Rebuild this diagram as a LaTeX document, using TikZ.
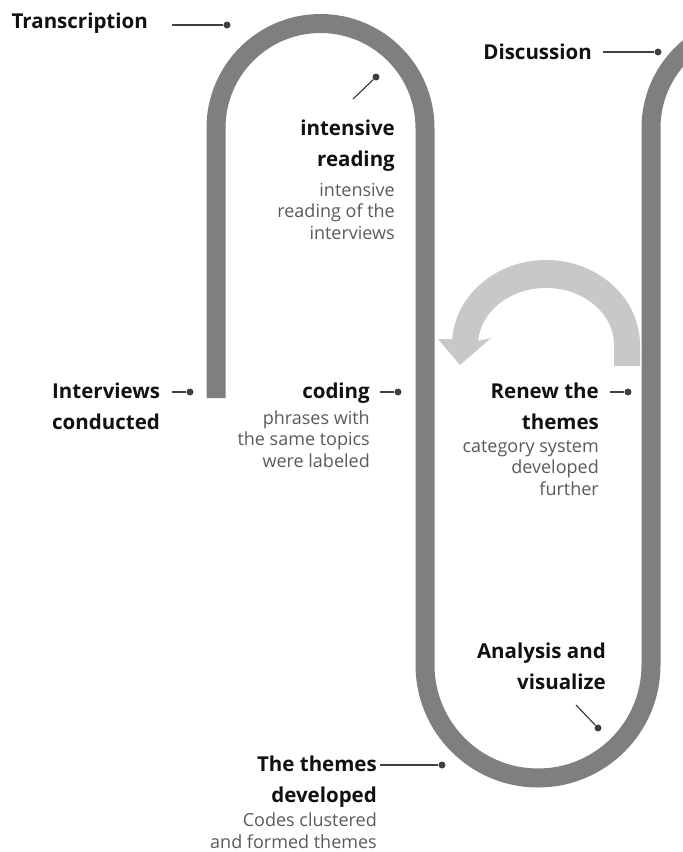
\documentclass[tikz,border=0pt]{standalone}
\usepackage{fontspec}
\setmainfont{Open Sans}
\definecolor{trackgray}{HTML}{7F7F7F}
\definecolor{arrowgray}{HTML}{C8C8C8}
\definecolor{leadergray}{HTML}{404040}
\definecolor{titleblack}{HTML}{111111}
\definecolor{descgray}{HTML}{5A5A5A}
\begin{document}
\begin{tikzpicture}[x=1pt,y=-1pt,
  track/.style={draw=trackgray, line width=19pt},
  title/.style={font=\bfseries\fontsize{20.5}{31}\selectfont, text=titleblack, align=right, inner sep=0pt},
  desc/.style={font=\fontsize{18}{21.5}\selectfont, text=descgray, align=right, inner sep=0pt},
  leader/.style={draw=leadergray, line width=1.2pt},
  dot/.style={circle, fill=leadergray, inner sep=0pt, minimum size=7pt}]
\useasboundingbox (0,0) rectangle (683,852);
\begin{scope}
\clip (0,0) rectangle (683,852);
% winding track
\draw[track] (216,398) -- (216,128) arc[start angle=180, end angle=360, radius=104.5]
  -- (425,665) arc[start angle=180, end angle=0, radius=113]
  -- (651,128) arc[start angle=180, end angle=270, radius=104];
\end{scope}
% curved return arrow
\fill[arrowgray] (640,366) -- (640,345) arc[start angle=0, end angle=-176, x radius=94, y radius=85]
  -- (438,339) -- (460,365) -- (491,338) -- (478.2,341)
  arc[start angle=-176, end angle=0, x radius=68, y radius=57] -- (614,366) -- cycle;

% labels (anchored at the baseline of their last line)
\node[title, anchor=base east] (transcription) at (148,28) {Transcription};
\node[title, anchor=base east] (discussion) at (592,59) {Discussion};
\node[title, anchor=base east] (intensive) at (395,166) {intensive\\reading};
\node[desc, anchor=base east] (intensiveD) at (395,239) {intensive\\reading of the\\interviews};
\node[title, anchor=base west, align=left] (interviews) at (52,429) {Interviews\\conducted};
\node[title, anchor=base east] (coding) at (370,398) {coding};
\node[desc, anchor=base east] (codingD) at (370,467) {phrases with\\the same topics\\were labeled};
\node[title, anchor=base east] (renew) at (599,429) {Renew the\\themes};
\node[desc, anchor=base east] (renewD) at (599,495) {category system\\developed\\further};
\node[title, anchor=base east] (analysis) at (606,689) {Analysis and\\visualize};
\node[title, anchor=base east] (themes) at (377,802) {The themes\\developed};
\node[desc, anchor=base east] (themesD) at (377,848) {Codes clustered\\and formed themes};

% leader lines with dots
\coordinate (transcriptionL) at (172,25);
\node[dot] (transcriptionP) at (227,25) {};
\coordinate (discussionL) at (603,52);
\node[dot] (discussionP) at (658,52) {};
\coordinate (intensiveL) at (353,99);
\node[dot] (intensiveP) at (376,77) {};
\coordinate (interviewsL) at (172,392);
\node[dot] (interviewsP) at (190,392) {};
\coordinate (codingL) at (380,392);
\node[dot] (codingP) at (398,392) {};
\coordinate (renewL) at (610,392);
\node[dot] (renewP) at (628,392) {};
\coordinate (analysisL) at (576,705);
\node[dot] (analysisP) at (598,728) {};
\coordinate (themesL) at (380,765);
\node[dot] (themesP) at (442,765) {};
\foreach \n in {transcription,discussion,intensive,interviews,coding,renew,analysis,themes}
  \draw[leader] (\n L) -- (\n P);
\end{tikzpicture}
\end{document}
